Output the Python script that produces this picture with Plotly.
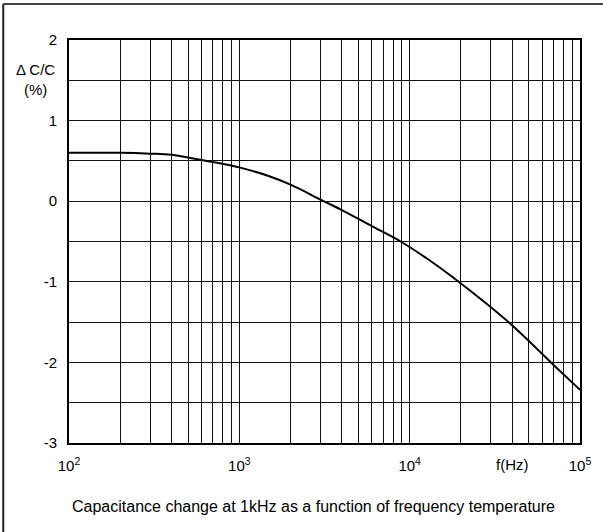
import plotly.graph_objects as go

freq_hz = [100, 200, 300, 400, 600, 870, 1000, 1500, 2000, 3000, 4000, 6000, 8850, 13000, 19400, 38000, 67500, 100000]
delta_c_pct = [0.60, 0.60, 0.59, 0.575, 0.51, 0.45, 0.42, 0.31, 0.205, 0.02, -0.11, -0.31, -0.50, -0.73, -1.00, -1.50, -2.00, -2.34]

x_major = [100, 1000, 10000, 100000]
x_major_text = ["10<sup>2</sup>", "10<sup>3</sup>", "10<sup>4</sup>", "10<sup>5</sup>"]
x_minor = [m * d for d in (100, 1000, 10000) for m in range(2, 10)]
y_major = [-3, -2, -1, 0, 1, 2]
y_major_text = ["-3", "-2", "-1", "0", "1", "2"]
y_minor = [-2.5, -1.5, -0.5, 0.5, 1.5]

W, H = 603, 532
L, R, T, B = 69, 21, 40, 89
pw, ph = W - L - R, H - T - B

def px(xp):
    return (xp - L) / pw

def py(yp):
    return (H - B - yp) / ph

font = dict(family="Liberation Sans, Arial, sans-serif", size=16, color="#000")
tfont = dict(family="Liberation Sans, Arial, sans-serif", size=15, color="#000")

fig = go.Figure()
fig.add_trace(go.Scatter(x=freq_hz, y=delta_c_pct, mode="lines",
                         line=dict(color="#000", width=2, shape="spline", smoothing=1.0),
                         showlegend=False, hoverinfo="skip"))

fig.update_layout(
    width=W, height=H,
    margin=dict(l=L, r=R, t=T, b=B),
    paper_bgcolor="white", plot_bgcolor="white",
    font=font,
    xaxis=dict(type="log", range=[2, 5], tickvals=x_major, ticktext=x_major_text,
               showgrid=True, gridcolor="#111", gridwidth=1,
               minor=dict(tickvals=x_minor, showgrid=True, gridcolor="#111", gridwidth=1, ticks=""),
               showline=True, linecolor="#000", linewidth=2, mirror=True,
               ticks="", ticklabelstandoff=8, zeroline=False, tickfont=tfont),
    yaxis=dict(range=[-3, 2], tickvals=y_major, ticktext=y_major_text,
               showgrid=True, gridcolor="#111", gridwidth=1,
               minor=dict(tickvals=y_minor, showgrid=True, gridcolor="#111", gridwidth=1, ticks=""),
               showline=True, linecolor="#000", linewidth=2, mirror=True,
               ticks="", ticklabelstandoff=7, zeroline=False, tickfont=tfont),
)

fig.add_annotation(x=px(35), y=py(79), xref="paper", yref="paper",
                   text="Δ C/C<br>(%)", showarrow=False, font=tfont,
                   xanchor="center", yanchor="middle", align="center")
fig.add_annotation(x=px(514), y=py(464), xref="paper", yref="paper",
                   text="f(Hz)", showarrow=False, font=tfont,
                   xanchor="center", yanchor="middle")
fig.add_annotation(x=px(314), y=py(506), xref="paper", yref="paper",
                   text="Capacitance change at 1kHz as a function of frequency temperature",
                   showarrow=False, font=font, xanchor="center", yanchor="middle")

# outer frame (top and left edges visible)
fig.add_shape(type="line", xref="paper", yref="paper", x0=px(3), x1=px(610), y0=py(4), y1=py(4),
              line=dict(color="#444", width=2))
fig.add_shape(type="line", xref="paper", yref="paper", x0=px(3), x1=px(3), y0=py(4), y1=py(540),
              line=dict(color="#222", width=2))

fig.write_html("out.html", config={"displayModeBar": False},
               post_script="document.body.style.margin='0';document.body.style.overflow='hidden';")
